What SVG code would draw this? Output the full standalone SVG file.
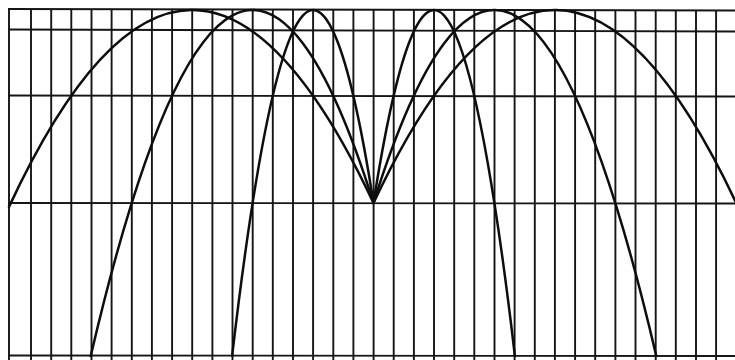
<svg xmlns="http://www.w3.org/2000/svg" width="735" height="360" viewBox="0 0 735 360">
<style>
.grid{stroke:#151515;stroke-width:1.9;fill:none}
.curve{stroke:#0d0d0d;stroke-width:2.5;fill:none;stroke-linecap:round}
</style>
<rect width="735" height="360" fill="#ffffff"/>
<g id="grid">
<path class="grid" d="M9,9 V360 M31,9 V360 M51.2,9 V360 M71.3,9 V360 M91.5,9 V360 M111.6,9 V360 M131.8,9 V360 M151.9,9 V360 M172.1,9 V360 M192.2,9 V360 M212.4,9.2 V360 M232.5,9.2 V360 M252.7,9.3 V360 M272.8,9.3 V360 M293,9.4 V360 M313.1,9.4 V360 M333.3,9.5 V360 M353.4,9.5 V360 M373.6,9.6 V360 M393.7,9.6 V360 M413.9,9.7 V360 M434,9.7 V360 M454.2,9.8 V360 M474.3,9.8 V360 M494.5,9.9 V360 M514.6,9.9 V360 M534.8,10 V360 M554.9,10 V360 M575.1,10.1 V360 M595.2,10.1 V360 M615.4,10.2 V360 M635.5,10.2 V360 M655.7,10.3 V360 M675.8,10.3 V360 M696,10.4 V360 M716.1,10.4 V360"/>
<path class="grid" d="M8,9 L735,10.5 M8,29.5 L735,31.5 M8,95.5 L735,96.5 M8,203 L735,203.5 M8,355.5 L735,356"/>
</g>
<g id="curves">
<path class="curve" d="M9,206.85 Q191.25,-184.92 373.5,203"/>
<path class="curve" d="M90.72,356 Q232.11,-248.43 373.5,203"/>
<path class="curve" d="M232.11,356 Q302.81,-248.42 373.5,203"/>
<path class="curve" d="M738,206.85 Q555.75,-184.92 373.5,203"/>
<path class="curve" d="M656.28,356 Q514.89,-248.43 373.5,203"/>
<path class="curve" d="M514.89,356 Q444.19,-248.42 373.5,203"/>
</g>
</svg>
